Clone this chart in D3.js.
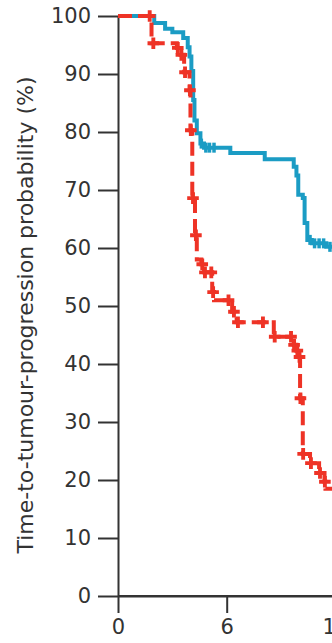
<!DOCTYPE html>
<html>
<head>
<meta charset="utf-8">
<script src="https://cdn.jsdelivr.net/npm/d3@7"></script>
<style>
  html, body { margin: 0; padding: 0; background: #fff; }
  svg { display: block; }
  .axis text { font-family: "DejaVu Sans", sans-serif; font-size: 21px; fill: #333; }
  .axis path, .axis line { stroke: #333; stroke-width: 2; }
</style>
</head>
<body>
<svg width="332" height="643"></svg>
<script>
// months and survival (%)
const xTicks = [0, 6, 12];
const yTicks = [0, 10, 20, 30, 40, 50, 60, 70, 80, 90, 100];

const blueTimes = [0, 2.0, 2.6, 3.0, 3.6, 3.85, 3.95, 4.05, 4.15, 4.22, 4.35, 4.55, 4.75, 6.2, 8.1, 9.7, 9.85, 9.95, 10.2, 10.3, 10.45, 10.7, 11.5, 12.6];
const blueSurv  = [100, 98.8, 97.8, 97.2, 96.2, 94.6, 93, 90.5, 85.5, 82, 79.8, 78, 77.3, 76.4, 75.3, 74, 72.5, 69.2, 68.6, 64.3, 61.4, 60.8, 60.2, 60.2];
const blueCensor = [4.6, 4.85, 5.05, 5.3, 10.6, 10.85, 11.1, 11.35, 11.7];

const redTimes = [0, 1.85, 3.25, 3.45, 3.65, 3.95, 4.0, 4.1, 4.25, 4.35, 4.6, 4.75, 5.2, 5.3, 6.3, 6.55, 8.6, 9.7, 9.85, 10.0, 10.05, 10.2, 10.6, 11.1, 11.4, 11.45, 12.6];
const redSurv  = [100, 95.3, 94.5, 93.3, 90.3, 87.2, 80.3, 68.6, 62.2, 58, 57.2, 55.8, 52.4, 51, 49, 47.2, 44.7, 43.3, 42.3, 41.2, 34.1, 24.5, 22.9, 21.2, 19.7, 18.5, 18.5];
const redCensor = [1.75, 1.95, 3.3, 3.5, 3.7, 3.97, 4.02, 4.14, 4.3, 4.65, 4.8, 5.15, 5.25, 6.1, 6.4, 6.62, 8.0, 8.65, 9.55, 9.72, 9.9, 10.02, 10.07, 10.22, 10.65, 11.15, 11.42];

const blue = "#1b9cc4";
const red = "#ee3326";

var svg = d3.select("svg");

var x = d3.scaleLinear().domain([0, 12]).range([118, 335.4]);
var y = d3.scaleLinear().domain([0, 100]).range([596, 16]);

// step value at time t
function survAt(times, surv, t) {
    let i = d3.bisectRight(times, t) - 1;
    return surv[Math.max(0, i)];
}

svg.append("g")
    .attr("class", "axis")
    .attr("transform", "translate(118,0)")
    .call(d3.axisLeft(y).tickValues(yTicks).tickSize(20).tickSizeOuter(0).tickPadding(7));

svg.append("g")
    .attr("class", "axis")
    .attr("transform", "translate(0,596)")
    .call(d3.axisBottom(x).tickValues(xTicks).tickSize(17).tickSizeOuter(0).tickPadding(6));

// x axis line runs on past the visible edge
svg.append("line")
    .attr("x1", x(0)).attr("x2", 340)
    .attr("y1", y(0)).attr("y2", y(0))
    .attr("stroke", "#333").attr("stroke-width", 2);

svg.append("text")
    .attr("transform", "translate(33,315) rotate(-90)")
    .attr("text-anchor", "middle")
    .attr("font-family", "DejaVu Sans, sans-serif")
    .attr("font-size", 22)
    .attr("fill", "#333")
    .text("Time-to-tumour-progression probability (%)");

var line = d3.line()
    .x(d => x(d[0]))
    .y(d => y(d[1]))
    .curve(d3.curveStepAfter);

svg.append("path")
    .attr("d", line(d3.zip(blueTimes, blueSurv)))
    .attr("fill", "none")
    .attr("stroke", blue)
    .attr("stroke-width", 4);

svg.selectAll(".bc")
    .data(blueCensor)
    .enter().append("line")
    .attr("x1", d => x(d)).attr("x2", d => x(d))
    .attr("y1", d => y(survAt(blueTimes, blueSurv, d)) - 5)
    .attr("y2", d => y(survAt(blueTimes, blueSurv, d)) + 5)
    .attr("stroke", blue)
    .attr("stroke-width", 3.5);

svg.append("path")
    .attr("d", line(d3.zip(redTimes, redSurv)))
    .attr("fill", "none")
    .attr("stroke", red)
    .attr("stroke-width", 4)
    .attr("stroke-dasharray", "14,6");

svg.selectAll(".rc")
    .data(redCensor)
    .enter().append("path")
    .attr("d", d3.symbol(d3.symbolCross, 75))
    .attr("transform", d => `translate(${x(d)},${y(survAt(redTimes, redSurv, d))})`)
    .attr("fill", red);
</script>
</body>
</html>
